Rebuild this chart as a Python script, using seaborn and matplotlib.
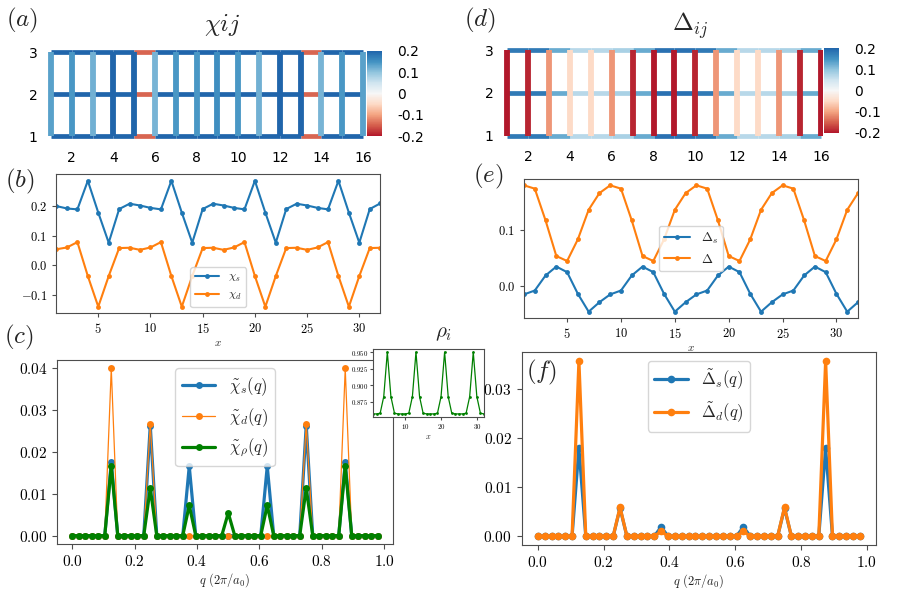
import numpy as np
import matplotlib
matplotlib.use('Agg')
import matplotlib.pyplot as plt
from matplotlib.colors import ListedColormap, Normalize
from matplotlib.cm import ScalarMappable
import seaborn as sns

W, H = 899, 590

# ---- lattice bonds (panels a, d) ----
rows = [1, 2, 3]
chi_vert = [0.135, 0.145, 0.12, 0.2, 0.2, 0.115, 0.145, 0.145,
            0.155, 0.145, 0.12, 0.2, 0.2, 0.115, 0.145, 0.135]
chi_horiz = [0.2, 0.2, 0.2, 0.2, -0.145, 0.2, 0.2, 0.2,
             0.2, 0.2, 0.2, 0.2, -0.145, 0.2, 0.2]
delta_vert = [-0.2, -0.19, -0.11, -0.05, -0.05, -0.11, -0.19, -0.2,
              -0.2, -0.19, -0.11, -0.05, -0.05, -0.11, -0.19, -0.2]
delta_horiz = [0.175, 0.175, 0.125, 0.07, 0.07, 0.08, 0.125, 0.185,
               0.185, 0.175, 0.125, 0.07, 0.07, 0.08, 0.125]

# ---- real-space profiles (panels b, e, inset) ----
sites = np.arange(1, 33)
chi_s = [0.199, 0.191, 0.188, 0.284, 0.177, 0.076, 0.189, 0.207,
         0.201, 0.193, 0.188, 0.284, 0.177, 0.076, 0.189, 0.207,
         0.201, 0.193, 0.188, 0.284, 0.177, 0.076, 0.189, 0.207,
         0.201, 0.193, 0.188, 0.284, 0.177, 0.076, 0.189, 0.208]
chi_d = [0.054, 0.060, 0.078, -0.036, -0.139, -0.036, 0.058, 0.059,
         0.052, 0.060, 0.078, -0.036, -0.139, -0.036, 0.058, 0.059,
         0.052, 0.060, 0.078, -0.036, -0.139, -0.036, 0.058, 0.059,
         0.052, 0.060, 0.078, -0.036, -0.139, -0.036, 0.058, 0.059]
delta_s = [-0.015, -0.008, 0.019, 0.035, 0.025, -0.014, -0.046, -0.029,
           -0.015, -0.008, 0.019, 0.035, 0.025, -0.014, -0.046, -0.029,
           -0.015, -0.008, 0.019, 0.035, 0.025, -0.014, -0.046, -0.029,
           -0.015, -0.008, 0.019, 0.035, 0.025, -0.014, -0.046, -0.029]
delta_d = [0.181, 0.175, 0.118, 0.054, 0.045, 0.084, 0.137, 0.167,
           0.181, 0.175, 0.118, 0.054, 0.045, 0.084, 0.137, 0.167,
           0.181, 0.175, 0.118, 0.054, 0.045, 0.084, 0.137, 0.167,
           0.181, 0.175, 0.118, 0.054, 0.045, 0.084, 0.137, 0.167]
rho = [0.857, 0.857, 0.858, 0.883, 0.950, 0.883, 0.858, 0.857,
       0.857, 0.857, 0.858, 0.883, 0.950, 0.883, 0.858, 0.857,
       0.857, 0.857, 0.858, 0.883, 0.950, 0.883, 0.858, 0.857,
       0.857, 0.857, 0.858, 0.883, 0.950, 0.883, 0.858, 0.857]

# ---- structure factors (panels c, f) ----
q = np.arange(48) / 48
chi_s_q = [0, 0, 0, 0, 0, 0, 0.0175, 0, 0, 0, 0, 0,
           0.0262, 0, 0, 0, 0, 0, 0.0165, 0, 0, 0, 0, 0,
           0, 0, 0, 0, 0, 0, 0.0165, 0, 0, 0, 0, 0,
           0.0262, 0, 0, 0, 0, 0, 0.0175, 0, 0, 0, 0, 0]
chi_d_q = [0, 0, 0, 0, 0, 0, 0.0398, 0, 0, 0, 0, 0,
           0.0265, 0, 0, 0, 0, 0, 0, 0, 0, 0, 0, 0,
           0, 0, 0, 0, 0, 0, 0, 0, 0, 0, 0, 0,
           0.0265, 0, 0, 0, 0, 0, 0.0398, 0, 0, 0, 0, 0]
chi_rho_q = [0, 0, 0, 0, 0, 0, 0.0166, 0, 0, 0, 0, 0,
             0.0113, 0, 0, 0, 0, 0, 0.0072, 0, 0, 0, 0, 0,
             0.0054, 0, 0, 0, 0, 0, 0.0072, 0, 0, 0, 0, 0,
             0.0113, 0, 0, 0, 0, 0, 0.0166, 0, 0, 0, 0, 0]
delta_s_q = [0, 0, 0, 0, 0, 0, 0.0179, 0, 0, 0, 0, 0,
             0.0057, 0, 0, 0, 0, 0, 0.0019, 0, 0, 0, 0, 0,
             0, 0, 0, 0, 0, 0, 0.0019, 0, 0, 0, 0, 0,
             0.0057, 0, 0, 0, 0, 0, 0.0179, 0, 0, 0, 0, 0]
delta_d_q = [0, 0, 0, 0, 0, 0, 0.0356, 0, 0, 0, 0, 0,
             0.0059, 0, 0, 0, 0, 0, 0.001, 0, 0, 0, 0, 0,
             0, 0, 0, 0, 0, 0, 0.001, 0, 0, 0, 0, 0,
             0.0059, 0, 0, 0, 0, 0, 0.0356, 0, 0, 0, 0, 0]

sns.set_style('ticks')
plt.rcParams['font.family'] = ['cmr10', 'DejaVu Sans']
plt.rcParams['mathtext.fontset'] = 'cm'
plt.rcParams['axes.formatter.use_mathtext'] = True
plt.rcParams['axes.edgecolor'] = '0.3'
plt.rcParams['xtick.color'] = '0.3'
plt.rcParams['ytick.color'] = '0.3'
plt.rcParams['xtick.labelcolor'] = 'black'
plt.rcParams['ytick.labelcolor'] = 'black'

C_BLUE, C_ORANGE, C_GREEN = '#1f77b4', '#ff7f0e', 'green'

cmap = ListedColormap(plt.get_cmap('RdBu')(np.linspace(0.1, 0.9, 256)))
norm = Normalize(-0.2, 0.2)


def rect(x0, y0, x1, y1):
    return [x0 / W, 1 - y1 / H, (x1 - x0) / W, (y1 - y0) / H]


fig = plt.figure(figsize=(W / 100, H / 100), dpi=100)


def lattice(ax, cax, vert, horiz, xmax):
    for r in rows:
        for i, v in enumerate(horiz):
            ax.plot([i + 1, i + 2], [r, r], color=cmap(norm(v)), lw=3.4,
                    solid_capstyle='butt', zorder=1)
    for i, v in enumerate(vert):
        ax.plot([i + 1, i + 1], [rows[0], rows[-1]], color=cmap(norm(v)),
                lw=4.2, solid_capstyle='butt', zorder=2)
    ax.set_xlim(0.75, xmax)
    ax.set_ylim(0.85, 3.15)
    for s in ax.spines.values():
        s.set_visible(False)
    ax.set_xticks(range(2, 17, 2))
    ax.set_xticklabels([str(t) for t in range(2, 17, 2)],
                       fontfamily='DejaVu Sans', fontsize=10)
    ax.set_yticks(rows)
    ax.set_yticklabels([str(r) for r in rows], fontfamily='DejaVu Sans',
                       fontsize=10)
    ax.tick_params(length=0, pad=6)
    cb = fig.colorbar(ScalarMappable(norm=norm, cmap=cmap), cax=cax)
    cb.outline.set_visible(False)
    cb.set_ticks([0.2, 0.1, 0, -0.1, -0.2])
    cb.ax.set_yticklabels(['0.2', '0.1', '0', '-0.1', '-0.2'],
                          fontfamily='DejaVu Sans', fontsize=10)
    cb.ax.tick_params(length=0, pad=11)


# (a) chi_ij lattice
ax_a = fig.add_axes(rect(45.8, 45.7, 368.2, 142.3))
cax_a = fig.add_axes(rect(367, 51, 382, 136))
lattice(ax_a, cax_a, chi_vert, chi_horiz, 16.25)
fig.text(222 / W, 1 - 25 / H, r'$\chi ij$', fontsize=18, ha='center', va='center')

# (d) Delta_ij lattice
ax_d = fig.add_axes(rect(501.8, 43.6, 823, 142.1))
cax_d = fig.add_axes(rect(824, 48, 839, 133))
lattice(ax_d, cax_d, delta_vert, delta_horiz, 16.1)
fig.text(690 / W, 1 - 26 / H, r'$\Delta_{ij}$', fontsize=18, ha='center', va='center')

# (b) chi_s, chi_d in real space
ax_b = fig.add_axes(rect(56.5, 174.5, 380.2, 313))
sns.lineplot(x=sites, y=chi_s, ax=ax_b, color=C_BLUE, lw=1.5, marker='o',
             markersize=3.5, mew=0, label=r'$\chi_s$')
sns.lineplot(x=sites, y=chi_d, ax=ax_b, color=C_ORANGE, lw=1.5, marker='o',
             markersize=3.5, mew=0, label=r'$\chi_d$')
ax_b.set_xlim(1, 32)
ax_b.set_xticks([5, 10, 15, 20, 25, 30])
ax_b.set_yticks([-0.1, 0.0, 0.1, 0.2])
ax_b.tick_params(labelsize=9, length=3)
ax_b.set_xlabel(r'$x$', fontsize=8, labelpad=2)
ax_b.legend(loc='lower center', fontsize=8.5)

# (e) Delta_s, Delta in real space
ax_e = fig.add_axes(rect(524, 179, 858, 318))
sns.lineplot(x=sites, y=delta_s, ax=ax_e, color=C_BLUE, lw=1.5, marker='o',
             markersize=3.5, mew=0, label=r'$\Delta_s$')
sns.lineplot(x=sites, y=delta_d, ax=ax_e, color=C_ORANGE, lw=1.5, marker='o',
             markersize=3.5, mew=0, label=r'$\Delta$')
ax_e.set_xlim(1, 32)
ax_e.set_xticks([5, 10, 15, 20, 25, 30])
ax_e.set_yticks([0.0, 0.1])
ax_e.tick_params(labelsize=9, length=3)
ax_e.set_xlabel(r'$x$', fontsize=8, labelpad=2)
ax_e.legend(loc='center', fontsize=9.5)

# (c) chi structure factors
ax_c = fig.add_axes(rect(57, 360, 393, 544))
sns.lineplot(x=q, y=chi_s_q, ax=ax_c, color=C_BLUE, lw=2.3, marker='o',
             markersize=5, mew=0, label=r'$\tilde{\chi}_s(q)$')
sns.lineplot(x=q, y=chi_d_q, ax=ax_c, color=C_ORANGE, lw=0.9, marker='o',
             markersize=5, mew=0, label=r'$\tilde{\chi}_d(q)$')
sns.lineplot(x=q, y=chi_rho_q, ax=ax_c, color=C_GREEN, lw=2.3, marker='o',
             markersize=5, mew=0, label=r'$\tilde{\chi}_\rho(q)$')
ax_c.set_xticks([0, 0.2, 0.4, 0.6, 0.8, 1.0])
ax_c.set_yticks([0, 0.01, 0.02, 0.03, 0.04])
ax_c.tick_params(labelsize=11, length=3.5)
ax_c.set_xlabel(r'$q\ (2\pi/a_0)$', fontsize=9, labelpad=2)
ax_c.legend(loc='upper center', fontsize=12)

# inset: density
ax_in = fig.add_axes(rect(373, 349, 484, 417))
sns.lineplot(x=sites, y=rho, ax=ax_in, color=C_GREEN, lw=0.9, marker='o',
             markersize=2, mew=0)
ax_in.set_xlim(1, 32)
ax_in.set_xticks([10, 20, 30])
ax_in.set_yticks([0.875, 0.900, 0.925, 0.950])
ax_in.tick_params(labelsize=5, length=2, pad=1.5)
ax_in.set_xlabel(r'$x$', fontsize=6, labelpad=1)
fig.text(444 / W, 1 - 334 / H, r'$\rho_i$', fontsize=15, ha='center', va='center')

# (f) Delta structure factors
ax_f = fig.add_axes(rect(521.7, 352.3, 876, 545))
sns.lineplot(x=q, y=delta_s_q, ax=ax_f, color=C_BLUE, lw=2.3, marker='o',
             markersize=5.5, mew=0, label=r'$\tilde{\Delta}_s(q)$')
sns.lineplot(x=q, y=delta_d_q, ax=ax_f, color=C_ORANGE, lw=2.3, marker='o',
             markersize=5.5, mew=0, label=r'$\tilde{\Delta}_d(q)$')
ax_f.set_xticks([0, 0.2, 0.4, 0.6, 0.8, 1.0])
ax_f.set_yticks([0, 0.01, 0.02, 0.03])
ax_f.tick_params(labelsize=11, length=3.5)
ax_f.set_xlabel(r'$q\ (2\pi/a_0)$', fontsize=9, labelpad=2)
ax_f.legend(loc='upper center', fontsize=12)

# panel letters
for lab, px, py in [('a', 22, 20), ('b', 20, 181), ('c', 19, 337),
                    ('d', 480, 20), ('e', 488, 176), ('f', 542, 372)]:
    fig.text(px / W, 1 - py / H, '$(%s)$' % lab, fontsize=18,
             ha='center', va='center')

fig.savefig('out.png', dpi=100)
